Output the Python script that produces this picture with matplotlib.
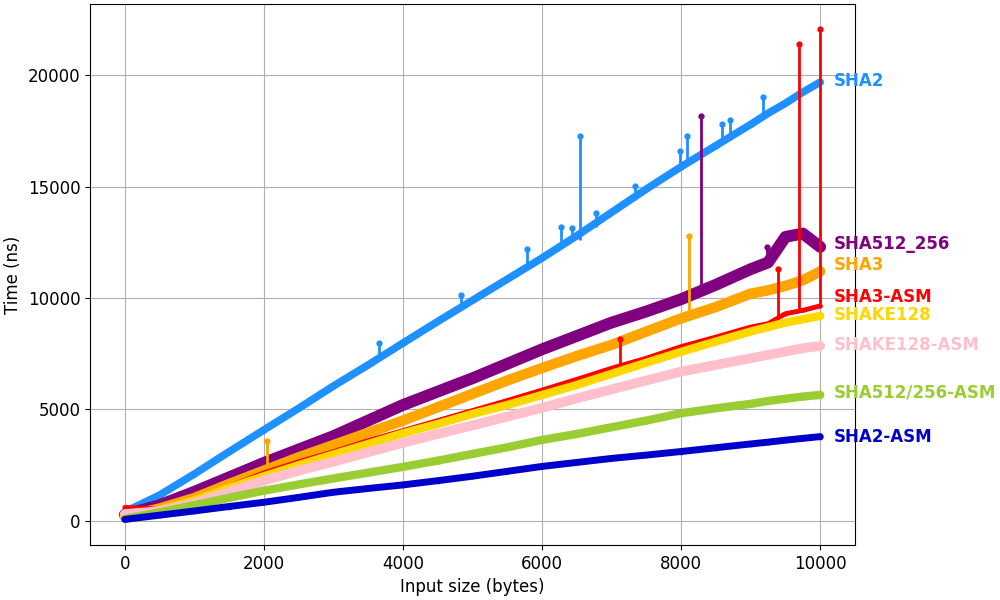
import matplotlib.pyplot as plt

# input sizes (bytes)
sizes = [0, 500, 1000, 1500, 2000, 2500, 3000, 3500, 4000, 4500, 5000, 5500,
         6000, 6500, 7000, 7500, 8000, 8500, 9000, 9250, 9500, 9750, 10000]

# timings (ns)
sha2 = [400, 1150, 2100, 3100, 4080, 5050, 6050, 7000, 7980, 8950, 9900, 10850,
        11800, 12800, 13850, 14900, 15900, 16850, 17800, 18300, 18750, 19250, 19700]
sha512_256 = [270, 700, 1300, 1950, 2600, 3200, 3800, 4500, 5200, 5800, 6400, 7050,
              7700, 8300, 8900, 9400, 9950, 10600, 11300, 11600, 12750, 12900, 12300]
sha3 = [200, 550, 1020, 1650, 2250, 2850, 3400, 3950, 4500, 5100, 5700, 6300,
        6860, 7400, 7900, 8500, 9090, 9600, 10200, 10350, 10550, 10800, 11200]
sha3_asm = [600, 520, 940, 1550, 2150, 2650, 3100, 3600, 4050, 4500, 4950, 5400,
            5870, 6350, 6850, 7300, 7820, 8250, 8700, 8850, 9300, 9450, 9650]
shake128 = [150, 480, 910, 1480, 2000, 2500, 2980, 3450, 3930, 4350, 4800, 5200,
            5650, 6100, 6600, 7100, 7590, 8050, 8500, 8700, 8900, 9050, 9200]
shake128_asm = [300, 430, 790, 1300, 1800, 2250, 2650, 3080, 3500, 3900, 4280, 4680,
                5070, 5500, 5900, 6300, 6700, 7000, 7300, 7450, 7600, 7750, 7850]
sha512_256_asm = [90, 380, 700, 1030, 1350, 1630, 1900, 2160, 2420, 2700, 3000, 3300,
                  3630, 3900, 4200, 4500, 4830, 5050, 5250, 5380, 5480, 5580, 5650]
sha2_asm = [60, 250, 440, 640, 830, 1050, 1280, 1450, 1610, 1800, 2000, 2220,
            2440, 2620, 2800, 2950, 3110, 3280, 3450, 3530, 3620, 3700, 3780]

# outlier spikes: (size, base, peak)
spikes_sha2 = [(3650, 7250, 7970), (4830, 9650, 10120), (5790, 11500, 12200),
               (6270, 12300, 13200), (6430, 12600, 13140), (6550, 12600, 17300),
               (6780, 13200, 13800), (7330, 14400, 15020), (7990, 15800, 16600),
               (8090, 16000, 17260), (8590, 16900, 17830), (8700, 17100, 17980),
               (9170, 18100, 19030)]
spikes_sha512_256 = [(8290, 10300, 18200), (9230, 11600, 12300)]
spikes_sha3 = [(2040, 2300, 3560), (8115, 9100, 12780)]
spikes_sha3_asm = [(7120, 6900, 8160), (9400, 9000, 11300),
                   (9690, 9400, 21400), (10000, 9650, 22100)]

names = ["SHA2", "SHA512_256", "SHA3", "SHA3-ASM", "SHAKE128",
         "SHAKE128-ASM", "SHA512/256-ASM", "SHA2-ASM"]
label_y = [19730, 12420, 11480, 10045, 9240, 7890, 5740, 3770]

series = [sha2, sha512_256, sha3, sha3_asm, shake128, shake128_asm, sha512_256_asm, sha2_asm]
spikes = [spikes_sha2, spikes_sha512_256, spikes_sha3, spikes_sha3_asm, [], [], [], []]
colors = ["dodgerblue", "purple", "orange", "red", "gold", "pink", "yellowgreen", "mediumblue"]
widths = [5.5, 8.5, 7.5, 3.5, 6, 7, 6, 5]

fig, ax = plt.subplots(figsize=(10, 6))

for name, ys, sp, c, lw, ly in zip(names, series, spikes, colors, widths, label_y):
    ax.plot(sizes, ys, color=c, lw=lw, marker='o', ms=lw * 0.6, solid_capstyle='round')
    if sp:
        sx = [s[0] for s in sp]
        ax.vlines(sx, [s[1] for s in sp], [s[2] for s in sp], color=c, lw=2)
        ax.plot(sx, [s[2] for s in sp], 'o', color=c, ms=3.5)
    ax.text(sizes[-1] + 200, ly, name, color=c, fontsize=12, fontweight='bold',
            va='center', ha='left')

ax.set_xlim(-500, 10500)
ax.set_ylim(-1080, 23200)
ax.grid(True)
ax.set_axisbelow(True)
ax.set_xlabel("Input size (bytes)", fontsize=12)
ax.set_ylabel("Time (ns)", fontsize=12)
ax.tick_params(labelsize=12)
plt.subplots_adjust(left=0.09, right=0.855, top=0.993, bottom=0.092)
plt.savefig("out.png", dpi=100)
